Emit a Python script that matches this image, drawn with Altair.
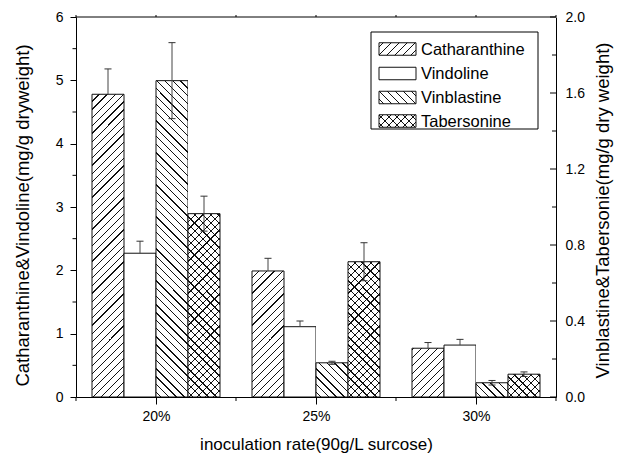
import altair as alt
import pandas as pd

# ---------------- data ----------------
rates = [20, 25, 30]
series = ["Catharanthine", "Vindoline", "Vinblastine", "Tabersonine"]
catharanthine = [4.78, 1.99, 0.77]
catharanthine_err = [0.40, 0.20, 0.09]
vindoline = [2.27, 1.11, 0.82]
vindoline_err = [0.19, 0.09, 0.09]
vinblastine = [1.665, 0.18, 0.075]        # right axis
vinblastine_err = [0.20, 0.008, 0.012]
tabersonine = [0.965, 0.712, 0.12]        # right axis
tabersonine_err = [0.092, 0.10, 0.012]

x_major = [20, 25, 30]
x_minor = [17.5, 22.5, 27.5, 32.5]
left_major = [0, 1, 2, 3, 4, 5, 6]
left_minor = [0.5, 1.5, 2.5, 3.5, 4.5, 5.5]
right_major = [0.0, 0.4, 0.8, 1.2, 1.6, 2.0]
right_minor = [0.2, 0.6, 1.0, 1.4, 1.8]

# ---------------- layout ----------------
W, H = 480, 380
XDOM = [17.5, 32.5]
LMAX, RMAX = 6, 2
BAR_PX = W / (XDOM[1] - XDOM[0])
FONT = "Liberation Sans"

rows = []
for vals, errs, name, pos in [
    (catharanthine, catharanthine_err, series[0], 0),
    (vindoline, vindoline_err, series[1], 1),
    (vinblastine, vinblastine_err, series[2], 2),
    (tabersonine, tabersonine_err, series[3], 3),
]:
    for r, v, e in zip(rates, vals, errs):
        rows.append({"rate": r, "series": name, "pos": pos, "value": v, "err": e})
df = pd.DataFrame(rows)


def hatch(w, h, direction, bg, period=8.0, lw=1.15, color="#111"):
    k = (w + h) / (w * w + h * h)
    if direction == "fwd":
        x1, y1, x2, y2 = 0, 0, k * w, k * h
    else:
        x1, y1, x2, y2 = 0, 1, k * w, 1 - k * h
    L = w + h
    stops = [alt.GradientStop(offset=0, color=bg)]
    s = period / 2
    while s + lw < L:
        a = round(s / L, 5)
        b = round((s + lw) / L, 5)
        stops += [alt.GradientStop(offset=a, color=bg), alt.GradientStop(offset=a, color=color),
                  alt.GradientStop(offset=b, color=color), alt.GradientStop(offset=b, color=bg)]
        s += period
    stops.append(alt.GradientStop(offset=1, color=bg))
    return alt.LinearGradient(gradient="linear", stops=stops,
                              x1=round(x1, 5), y1=round(y1, 5), x2=round(x2, 5), y2=round(y2, 5))


CLEAR = "rgba(255,255,255,0)"
xs = alt.Scale(domain=XDOM, nice=False, zero=False)
ysL = alt.Scale(domain=[0, LMAX], nice=False)
ysR = alt.Scale(domain=[0, RMAX], nice=False)

# the x scale is shared by all layers: every layer gets the same axis definition
x_axis = alt.Axis(
    orient="bottom", values=x_major, grid=False, zindex=1,
    labelExpr="datum.value + '%'", tickSize=7, labelPadding=5, labelFlush=False,
    title="inoculation rate(90g/L surcose)", titleFontSize=17,
    titleX=240, titleY=47, titleBaseline="middle", titleAlign="center",
)
left_axis = alt.Axis(
    orient="left", values=left_major, grid=False, zindex=1, format="d",
    tickSize=6, labelPadding=7,
    title="Catharanthine&Vindoline(mg/g dryweight)", titleFontSize=18.5,
    titleAngle=270, titleX=-54, titleY=198, titleBaseline="middle", titleAlign="center",
)
right_axis = alt.Axis(
    orient="right", values=right_major, format=".1f", grid=False, zindex=1,
    ticks=False, labelPadding=9,
    title="Vinblastine&Tabersonie(mg/g dry weight)", titleFontSize=18.5,
    titleAngle=270, titleX=46, titleY=193, titleBaseline="middle", titleAlign="center",
)


def base(name, top):
    pos = series.index(name)
    return (alt.Chart(df)
            .transform_filter(alt.datum.series == name)
            .transform_calculate(x0=f"datum.rate - 2 + {pos}", x1=f"datum.rate - 1 + {pos}",
                                 xc=f"datum.rate - 1.5 + {pos}",
                                 xl=f"datum.rate - 1.5 + {pos} - 0.11",
                                 xr=f"datum.rate - 1.5 + {pos} + 0.11",
                                 top=str(top), bot="0",
                                 hi="datum.value + datum.err", lo="datum.value - datum.err"))


def X(field):
    return alt.X(field, scale=xs, axis=x_axis)


def bar_layers(name, top, ys, grads, yaxis=None, both_err=False, white=False):
    b = base(name, top)
    layers = []
    first = True
    for g in grads:
        layers.append(b.mark_rect(fill=g, strokeWidth=0).encode(
            x=X("x0:Q"), x2="x1:Q",
            y=alt.Y("top:Q", scale=ys, axis=yaxis if first else None), y2="bot:Q"))
        first = False
    if grads:
        layers.append(b.mark_rect(fill="white", strokeWidth=0).encode(
            x=X("x0:Q"), x2="x1:Q",
            y=alt.Y("value:Q", scale=ys, axis=None), y2="top:Q"))
    layers.append(b.mark_rect(fill="white" if white else CLEAR, stroke="#111", strokeWidth=1).encode(
        x=X("x0:Q"), x2="x1:Q",
        y=alt.Y("value:Q", scale=ys, axis=yaxis if first else None), y2="bot:Q"))
    low = "lo:Q" if both_err else "value:Q"
    layers.append(b.mark_rule(color="#444", strokeWidth=1).encode(
        x=X("xc:Q"), y=alt.Y(low, scale=ys, axis=None), y2="hi:Q"))
    layers.append(b.mark_rule(color="#333", strokeWidth=1).encode(
        x=X("xl:Q"), x2="xr:Q", y=alt.Y("hi:Q", scale=ys, axis=None)))
    if both_err:
        layers.append(b.mark_rule(color="#333", strokeWidth=1).encode(
            x=X("xl:Q"), x2="xr:Q", y=alt.Y("lo:Q", scale=ys, axis=None)))
    return layers


def vticks(values, ys, xa, xb):
    return alt.Chart(alt.Data(values=[{"v": v} for v in values])).mark_rule(
        color="black", strokeWidth=1).encode(
        x=alt.value(xa), x2=alt.value(xb), y=alt.Y("v:Q", scale=ys, axis=None))


def hticks(values, ya, yb):
    return alt.Chart(alt.Data(values=[{"v": v} for v in values])).mark_rule(
        color="black", strokeWidth=1).encode(
        y=alt.value(ya), y2=alt.value(yb), x=X("v:Q"))


g_fwd = hatch(BAR_PX, H, "fwd", "white")
g_bwd = hatch(BAR_PX, H, "bwd", "white")
g_bwd_clear = hatch(BAR_PX, H, "bwd", CLEAR)

plot_layers = [
    *bar_layers("Catharanthine", LMAX, ysL, [g_fwd], yaxis=left_axis),
    *bar_layers("Vindoline", LMAX, ysL, [], white=True),
    *bar_layers("Vinblastine", RMAX, ysR, [g_bwd], yaxis=right_axis, both_err=True),
    *bar_layers("Tabersonine", RMAX, ysR, [g_fwd, g_bwd_clear], both_err=True),
    vticks(left_minor, ysL, -3.5, 0),
    vticks(right_major, ysR, W - 6, W),
    vticks(right_minor, ysR, W - 4, W),
    hticks(x_minor, H, H + 4),
    hticks(x_major + x_minor, -2, 0),
    alt.Chart(alt.Data(values=[{"a": 1}])).mark_rule(color="black", strokeWidth=1).encode(
        x=alt.value(0), x2=alt.value(W), y=alt.value(0)),
]

# ---------------- legend ----------------
LX0, LX1, LY0, LY1 = 295, 462, 15, 112
SW_X0, SW_X1, SW_H = 303, 340, 12.5
ROW_Y = [32, 56.5, 80.5, 104]
TXT_X = 345

legend_layers = [
    alt.Chart(alt.Data(values=[{"a": 1}])).mark_rect(fill="white", stroke="black", strokeWidth=1).encode(
        x=alt.value(LX0), x2=alt.value(LX1), y=alt.value(LY0), y2=alt.value(LY1))
]
sw_fwd = hatch(SW_X1 - SW_X0, SW_H, "fwd", "white")
sw_bwd = hatch(SW_X1 - SW_X0, SW_H, "bwd", "white")
sw_bwd_clear = hatch(SW_X1 - SW_X0, SW_H, "bwd", CLEAR)
swatch_fills = [[sw_fwd], ["white"], [sw_bwd], [sw_fwd, sw_bwd_clear]]
for i, name in enumerate(series):
    yc = ROW_Y[i]
    for f in swatch_fills[i]:
        legend_layers.append(
            alt.Chart(alt.Data(values=[{"s": name}])).mark_rect(fill=f, strokeWidth=0).encode(
                x=alt.value(SW_X0), x2=alt.value(SW_X1),
                y=alt.value(yc - SW_H / 2), y2=alt.value(yc + SW_H / 2)))
    legend_layers.append(
        alt.Chart(alt.Data(values=[{"s": name}])).mark_rect(fill=CLEAR, stroke="#111", strokeWidth=1).encode(
            x=alt.value(SW_X0), x2=alt.value(SW_X1),
            y=alt.value(yc - SW_H / 2), y2=alt.value(yc + SW_H / 2)))
    legend_layers.append(
        alt.Chart(alt.Data(values=[{"s": name}])).mark_text(
            align="left", baseline="middle", font=FONT, fontSize=16.5, color="black").encode(
            x=alt.value(TXT_X), y=alt.value(yc + 0.5), text="s:N"))

chart = (
    alt.layer(*plot_layers, *legend_layers)
    .resolve_scale(y="independent")
    .properties(width=W, height=H, autosize=alt.AutoSizeParams(type="none"),
                padding={"left": 76, "top": 17, "right": 62, "bottom": 57},
                background="white")
    .configure_view(stroke=None)
    .configure_axis(domainColor="black", tickColor="black", labelColor="black",
                    titleColor="black", labelFont=FONT, titleFont=FONT, labelFontSize=14,
                    titleFontWeight="normal", domainWidth=1, tickWidth=1)
)

chart.save("out.html", embed_options={"renderer": "svg", "actions": False})
